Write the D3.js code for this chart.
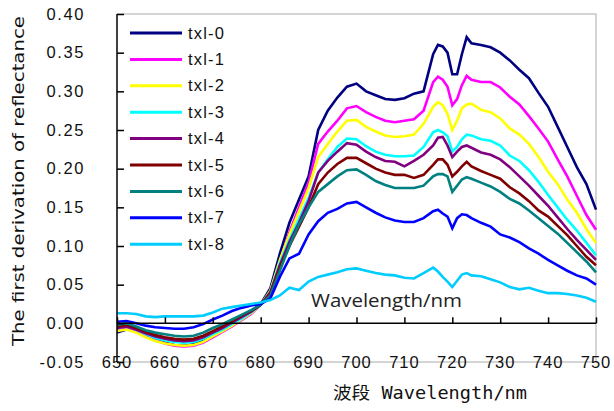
<!DOCTYPE html>
<html><head><meta charset="utf-8">
<script src="https://cdn.jsdelivr.net/npm/d3@7"></script>
<style>
body{margin:0;background:#fff;}
svg{display:block;}
</style></head>
<body>
<svg id="chart" width="614" height="411"></svg>
<script>
const wavelengths = [650,652,654,656,658,660,662,664,666,668,670,672,674,676,678,680,682,684,686,688,690,692,694,696,698,700,702,704,706,708,710,712,714,716,717,718,719,720,721,722,723,724,726,728,730,732,734,736,738,740,742,744,746,748,750];
const seriesNames = ["txl-0","txl-1","txl-2","txl-3","txl-4","txl-5","txl-6","txl-7","txl-8"];
const seriesColors = ["#000080","#FF00FF","#FFFF00","#00FFFF","#800080","#800000","#008080","#0000FF","#00CCFF"];
const txl0 = [-0.012,-0.008,-0.010,-0.015,-0.021,-0.025,-0.028,-0.029,-0.027,-0.022,-0.015,-0.008,-0.001,0.007,0.015,0.025,0.045,0.090,0.130,0.160,0.190,0.250,0.275,0.292,0.306,0.310,0.300,0.295,0.290,0.289,0.291,0.297,0.300,0.348,0.360,0.358,0.350,0.322,0.322,0.348,0.370,0.362,0.360,0.357,0.350,0.340,0.328,0.317,0.298,0.280,0.254,0.228,0.202,0.180,0.147];
const txl1 = [-0.008,-0.006,-0.010,-0.016,-0.022,-0.026,-0.029,-0.030,-0.029,-0.025,-0.018,-0.011,-0.004,0.004,0.012,0.024,0.040,0.080,0.118,0.150,0.182,0.232,0.248,0.262,0.278,0.281,0.273,0.267,0.262,0.260,0.262,0.264,0.275,0.312,0.319,0.315,0.306,0.282,0.290,0.308,0.320,0.315,0.312,0.312,0.305,0.293,0.283,0.268,0.252,0.235,0.212,0.190,0.165,0.140,0.121];
const txl2 = [-0.010,-0.008,-0.012,-0.018,-0.023,-0.026,-0.028,-0.029,-0.028,-0.024,-0.017,-0.010,-0.003,0.005,0.013,0.024,0.042,0.082,0.115,0.145,0.175,0.215,0.232,0.248,0.262,0.263,0.254,0.248,0.243,0.241,0.242,0.244,0.258,0.280,0.286,0.282,0.271,0.250,0.262,0.278,0.283,0.284,0.276,0.273,0.265,0.252,0.244,0.232,0.215,0.196,0.180,0.160,0.143,0.122,0.104];
const txl3 = [-0.006,-0.004,-0.008,-0.014,-0.019,-0.022,-0.024,-0.025,-0.024,-0.020,-0.014,-0.008,-0.001,0.006,0.014,0.024,0.040,0.078,0.108,0.135,0.162,0.195,0.212,0.228,0.239,0.238,0.229,0.222,0.218,0.216,0.216,0.217,0.228,0.247,0.250,0.247,0.242,0.222,0.228,0.238,0.244,0.243,0.238,0.236,0.230,0.217,0.210,0.198,0.183,0.166,0.150,0.134,0.120,0.104,0.088];
const txl4 = [-0.006,-0.004,-0.008,-0.013,-0.017,-0.020,-0.022,-0.023,-0.022,-0.018,-0.012,-0.006,0.001,0.008,0.015,0.024,0.040,0.075,0.105,0.130,0.158,0.195,0.210,0.222,0.233,0.231,0.222,0.215,0.210,0.209,0.203,0.210,0.218,0.230,0.240,0.241,0.230,0.215,0.222,0.228,0.230,0.227,0.221,0.218,0.212,0.202,0.190,0.178,0.165,0.152,0.137,0.122,0.108,0.095,0.082];
const txl5 = [-0.004,-0.002,-0.006,-0.011,-0.015,-0.018,-0.020,-0.021,-0.020,-0.016,-0.010,-0.004,0.003,0.010,0.016,0.024,0.038,0.072,0.100,0.125,0.150,0.180,0.195,0.206,0.214,0.214,0.207,0.200,0.195,0.192,0.192,0.188,0.192,0.205,0.212,0.212,0.205,0.190,0.196,0.203,0.209,0.203,0.197,0.192,0.187,0.176,0.168,0.158,0.146,0.138,0.126,0.114,0.100,0.086,0.075];
const txl6 = [-0.002,0.000,-0.004,-0.009,-0.012,-0.014,-0.016,-0.017,-0.016,-0.012,-0.006,-0.001,0.005,0.011,0.017,0.024,0.036,0.068,0.100,0.128,0.150,0.170,0.180,0.190,0.198,0.199,0.192,0.184,0.179,0.175,0.175,0.175,0.178,0.190,0.193,0.193,0.190,0.170,0.178,0.186,0.189,0.187,0.182,0.177,0.170,0.161,0.155,0.146,0.136,0.126,0.116,0.104,0.092,0.080,0.066];
const txl7 = [0.002,0.003,0.000,-0.003,-0.005,-0.006,-0.007,-0.007,-0.005,-0.001,0.005,0.010,0.016,0.020,0.023,0.025,0.032,0.060,0.084,0.090,0.115,0.132,0.143,0.148,0.155,0.157,0.150,0.143,0.137,0.133,0.131,0.131,0.136,0.145,0.147,0.142,0.138,0.123,0.136,0.141,0.140,0.136,0.130,0.125,0.115,0.111,0.105,0.097,0.090,0.082,0.075,0.068,0.062,0.058,0.050];
const txl8 = [0.013,0.013,0.012,0.009,0.008,0.009,0.009,0.009,0.009,0.010,0.014,0.019,0.021,0.023,0.025,0.027,0.030,0.036,0.046,0.043,0.054,0.060,0.063,0.066,0.070,0.071,0.068,0.065,0.063,0.062,0.059,0.058,0.065,0.072,0.067,0.060,0.054,0.047,0.055,0.063,0.065,0.062,0.061,0.057,0.053,0.047,0.044,0.046,0.042,0.039,0.039,0.038,0.036,0.033,0.028];
const seriesValues = [txl0,txl1,txl2,txl3,txl4,txl5,txl6,txl7,txl8];
const xTicks = [650,660,670,680,690,700,710,720,730,740,750];
const xTickLabels = ["650","660","670","680","690","700","710","720","730","740","750"];
const yTicks = [0.40,0.35,0.30,0.25,0.20,0.15,0.10,0.05,0.00,-0.05];
const yTitle = "The first derivation of reflectance";
const xTitle = "波段 Wavelength/nm";
const innerNote = "Wavelength/nm";

const svg = d3.select("#chart");
const L = 117, R = 596, T = 14, B = 362;
const x = d3.scaleLinear().domain([650,750]).range([L,R]);
const y = d3.scaleLinear().domain([-0.05,0.40]).range([B,T]);

// plot border (gray)
svg.append("path")
  .attr("d", `M${L},${T}H${R}V${B}H${L}`)
  .attr("fill","none").attr("stroke","#c8c8c8").attr("stroke-width",1.5);

// series
const line = d3.line().x((d,i)=>x(wavelengths[i])).y(d=>y(d));
seriesValues.forEach((vals,k)=>{
  svg.append("path").datum(vals)
    .attr("d", line)
    .attr("fill","none")
    .attr("stroke", seriesColors[k])
    .attr("stroke-width", 2.6)
    .attr("stroke-linejoin","miter");
});

// y axis
const yAxis = d3.axisRight(y).tickValues(yTicks).tickSize(7).tickFormat("");
const gy = svg.append("g").attr("transform",`translate(${L},0)`).call(yAxis);
gy.select(".domain").attr("stroke","#000").attr("stroke-width",1.5).attr("d",`M0,${T}V${B}`);
gy.selectAll(".tick line").attr("stroke","#000").attr("stroke-width",1.5);

svg.append("g").selectAll("text").data(yTicks).join("text")
  .attr("x", 85).attr("y", d=>y(d)+5.5)
  .attr("text-anchor","end")
  .attr("font-family","Liberation Sans, Arial, sans-serif")
  .attr("font-size",16.5).attr("letter-spacing","1.6px")
  .attr("fill","#111")
  .text(d=>d3.format(".2f")(d).replace("−","-"));

// x axis at zero
const xAxis = d3.axisTop(x).tickValues(xTicks).tickSize(6).tickFormat("");
const gx = svg.append("g").attr("transform",`translate(0,${y(0)})`).call(xAxis);
gx.select(".domain").attr("stroke","#000").attr("stroke-width",1.5).attr("d",`M${L},0H${R}`);
gx.selectAll(".tick line").attr("stroke","#000").attr("stroke-width",1.5);

svg.append("g").selectAll("text").data(xTicks).join("text")
  .attr("x", d=>x(d)).attr("y", B+6)
  .attr("text-anchor","middle")
  .attr("font-family","Liberation Sans, Arial, sans-serif")
  .attr("font-size",16.5).attr("letter-spacing","1px")
  .attr("fill","#111")
  .text((d,i)=>xTickLabels[i]);

// y title
svg.append("text")
  .attr("transform","translate(24,181) rotate(-90)")
  .attr("text-anchor","middle")
  .attr("font-family","DejaVu Sans, sans-serif")
  .attr("font-size",16)
  .attr("textLength",330).attr("lengthAdjust","spacingAndGlyphs")
  .attr("fill","#111")
  .text(yTitle);

// x title
svg.append("text")
  .attr("x", 430).attr("y", 399)
  .attr("text-anchor","middle")
  .attr("font-family","DejaVu Sans Mono, Noto Sans CJK SC, monospace")
  .attr("font-size",17)
  .attr("textLength",194).attr("lengthAdjust","spacingAndGlyphs")
  .attr("fill","#111")
  .text(xTitle);

// inner note
svg.append("text")
  .attr("x", 311).attr("y", 307)
  .attr("font-family","Open Sans, sans-serif")
  .attr("font-size",18.5)
  .attr("fill","#222")
  .attr("textLength",151).attr("lengthAdjust","spacingAndGlyphs")
  .text(innerNote);

// legend
const lg = svg.append("g");
seriesNames.forEach((n,k)=>{
  const yy = 33 + k*26.4;
  lg.append("line").attr("x1",130).attr("x2",182).attr("y1",yy).attr("y2",yy)
    .attr("stroke",seriesColors[k]).attr("stroke-width",3);
  lg.append("text").attr("x",188).attr("y",yy+5.5)
    .attr("font-family","Liberation Sans, Arial, sans-serif")
    .attr("font-size",16.5).attr("letter-spacing","1.2px")
    .attr("fill","#111").text(n);
});
</script>
</body></html>
